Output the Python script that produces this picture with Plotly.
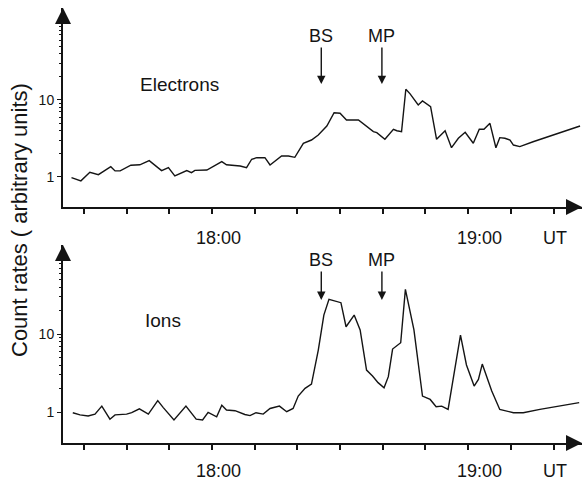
import math
import plotly.graph_objects as go

# Time in minutes after 17:00 UT
e_time = [27.1, 29.3, 31.4, 33.4, 36.3, 37.3, 38.5, 41.0, 43.1, 45.3, 48.2, 49.8, 51.3, 54.1,
          55.2, 56.0, 58.8, 61.1, 62.3, 63.4, 65.8, 66.6, 68.1, 69.3, 70.5, 72.4, 73.6, 76.3,
          77.9, 79.4, 81.4, 83.3, 84.9, 86.9, 88.6, 90.0, 91.5, 94.3, 97.8, 98.6, 100.5, 102.5,
          103.3, 104.4, 105.4, 106.4, 108.3, 109.3, 111.2, 112.6, 114.6, 116.1, 117.7, 119.3,
          121.2, 122.6, 123.7, 125.1, 126.5, 127.4, 128.6, 129.8, 130.6, 132.1, 135.2, 146.2]
e_rate = [0.98, 0.89, 1.15, 1.07, 1.36, 1.20, 1.20, 1.42, 1.44, 1.63, 1.21, 1.32, 1.03, 1.21,
          1.14, 1.22, 1.23, 1.43, 1.58, 1.44, 1.42, 1.39, 1.32, 1.70, 1.78, 1.78, 1.43, 1.87,
          1.87, 1.80, 2.74, 3.02, 3.51, 4.59, 6.84, 6.72, 5.50, 5.50, 3.88, 3.76, 3.09, 4.16,
          3.99, 3.88, 13.8, 12.0, 8.61, 9.70, 8.18, 3.09, 3.99, 2.40, 3.18, 3.81,
          2.74, 4.16, 4.16, 4.98, 2.40, 3.24, 3.18, 3.02, 2.60, 2.48, 2.87, 4.59]

i_time = [27.4, 29.1, 31.0, 32.6, 34.2, 36.1, 37.3, 40.0, 41.2, 43.0, 45.1, 47.3, 48.6, 51.1,
          53.9, 56.3, 57.8, 59.1, 61.1, 62.3, 63.4, 65.4, 67.7, 68.9, 70.3, 72.0, 73.6, 75.8,
          77.5, 79.0, 80.2, 81.8, 83.3, 84.9, 86.2, 87.4, 90.2, 91.4, 93.3, 94.7, 96.2, 97.6,
          98.9, 100.3, 101.3, 102.3, 104.2, 105.3, 107.3, 109.3, 111.1, 112.5, 113.8, 115.3,
          118.2, 119.6, 121.4, 122.4, 123.3, 125.5, 127.4, 130.6, 132.9, 136.8, 146.0]
i_rate = [0.98, 0.92, 0.89, 0.94, 1.19, 0.81, 0.92, 0.94, 0.98, 1.10, 0.94, 1.40, 1.14, 0.79,
          1.19, 0.81, 0.79, 0.99, 0.87, 1.22, 1.06, 1.04, 0.93, 0.90, 0.98, 0.94, 1.11, 1.19,
          1.01, 1.11, 1.60, 2.01, 2.28, 6.23, 17.5, 27.8, 25.2, 12.4, 17.5, 11.3, 3.45, 2.90,
          2.38, 2.05, 2.84, 6.42, 7.73, 37.4, 11.3, 1.60, 1.45, 1.17, 1.19, 1.08,
          9.70, 4.01, 2.15, 2.62, 4.12, 1.87, 1.08, 0.98, 0.98, 1.08, 1.32]

# Axis ticks (minutes after 17:00) and labels
x_ticks = [30, 40, 50, 60, 70, 80, 90, 100, 110, 120, 130, 140]
x_labels = ["18:00", "19:00", "UT"]
x_label_pos = [60, 120, 140]
x_label_shift = [7, 11, 1]
y_ticks = [1, 10]
y_ticklabels = ["1", "10"]
y_minor = [2, 3, 4, 5, 6, 7, 8, 9, 20, 30, 40, 50, 60, 70, 80, 90, 100]

# Event markers: bow shock and magnetopause crossings
events = ["BS", "MP"]
event_time = [85.6, 99.8]

FONT = "Liberation Sans, Arial, sans-serif"
INK = "#141414"
W, H = 587, 486
lg = math.log10

fig = go.Figure()
fig.add_trace(go.Scatter(x=e_time, y=e_rate, mode="lines", xaxis="x", yaxis="y",
                         line=dict(color=INK, width=1.4), showlegend=False, hoverinfo="skip"))
fig.add_trace(go.Scatter(x=i_time, y=i_rate, mode="lines", xaxis="x2", yaxis="y2",
                         line=dict(color=INK, width=1.4), showlegend=False, hoverinfo="skip"))

xr = [25.11, 146.66]
xdom = [63 / W, 582 / W]
common_x = dict(range=xr, domain=xdom, showline=True, linecolor=INK, linewidth=2,
                ticks="outside", tickvals=x_ticks, ticklen=5, tickwidth=1.5, tickcolor=INK,
                showticklabels=False, showgrid=False, zeroline=False)
common_y = dict(type="log", showline=True, linecolor=INK, linewidth=2, ticks="outside",
                tickvals=y_ticks, ticktext=y_ticklabels, ticklen=4, tickwidth=1.2, tickcolor=INK,
                tickfont=dict(family=FONT, size=14, color=INK), showgrid=False, zeroline=False,
                minor=dict(tickvals=y_minor, ticks="outside", ticklen=2, tickwidth=1, tickcolor=INK))

fig.update_layout(
    width=W, height=H, margin=dict(l=0, r=0, t=0, b=0),
    paper_bgcolor="white", plot_bgcolor="white",
    font=dict(family=FONT, color=INK),
    xaxis=dict(anchor="y", **common_x),
    xaxis2=dict(anchor="y2", **common_x),
    yaxis=dict(anchor="x", domain=[1 - 207 / H, 1 - 8 / H], range=[-0.390, 2.195], **common_y),
    yaxis2=dict(anchor="x2", domain=[1 - 443 / H, 1 - 245 / H], range=[-0.397, 2.141], **common_y),
)

anns = []
# Axis arrowheads
for xa, ya in [("x", "y"), ("x2", "y2")]:
    anns.append(dict(xref=xa + " domain", yref=ya + " domain", x=1, y=0, ax=-14, ay=0,
                     axref="pixel", ayref="pixel", text="", showarrow=True, arrowhead=2,
                     arrowsize=1.6, arrowwidth=2, arrowcolor=INK, standoff=0))
    anns.append(dict(xref=xa + " domain", yref=ya + " domain", x=0, y=1, ax=0, ay=14,
                     axref="pixel", ayref="pixel", text="", showarrow=True, arrowhead=2,
                     arrowsize=1.6, arrowwidth=2, arrowcolor=INK, standoff=0))
    # time labels under each panel
    ysh = -31 if xa == "x" else -28
    for lab, pos, sh in zip(x_labels, x_label_pos, x_label_shift):
        anns.append(dict(xref=xa, yref=ya + " domain", x=pos, y=0, yshift=ysh, xshift=sh,
                         text=lab, showarrow=False, font=dict(size=18, family=FONT, color=INK),
                         xanchor="center", yanchor="middle"))

# Event arrows (annotation y on log axes is given as log10 of the value)
for ev, t in zip(events, event_time):
    anns.append(dict(xref="x", yref="y", x=t, y=lg(16.1), ax=0, ay=-48, text=ev, showarrow=True,
                     arrowhead=2, arrowsize=1.2, arrowwidth=1.4, arrowcolor=INK, standoff=0,
                     font=dict(size=18, family=FONT, color=INK)))
    anns.append(dict(xref="x2", yref="y2", x=t, y=lg(27.3), ax=0, ay=-40, text=ev, showarrow=True,
                     arrowhead=2, arrowsize=1.2, arrowwidth=1.4, arrowcolor=INK, standoff=0,
                     font=dict(size=18, family=FONT, color=INK)))

# Panel labels
anns.append(dict(xref="x", yref="y", x=52.5, y=lg(15.7), text="Electrons", showarrow=False,
                 font=dict(size=19, family=FONT, color=INK)))
anns.append(dict(xref="x2", yref="y2", x=48.6, y=lg(15.1), text="Ions", showarrow=False,
                 font=dict(size=19, family=FONT, color=INK)))

# Y-axis title
anns.append(dict(xref="paper", yref="paper", x=20 / W, y=1 - 220 / H, text="Count rates ( arbitrary units)",
                 textangle=-90, showarrow=False, font=dict(size=22, family=FONT, color=INK),
                 xanchor="center", yanchor="middle"))

fig.update_layout(annotations=anns)
fig.write_html("out.html")
